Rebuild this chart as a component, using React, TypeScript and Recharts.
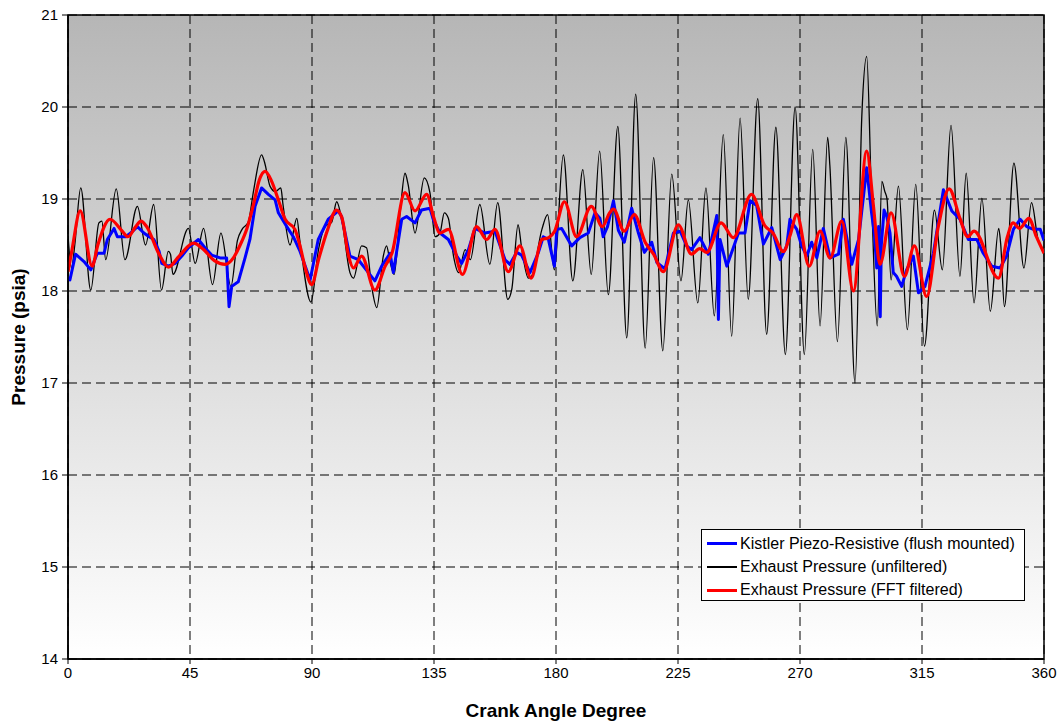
import React from 'react';
import {
  LineChart,
  Line,
  XAxis,
  YAxis,
  CartesianGrid,
  Legend,
  ReferenceArea,
} from 'recharts';

const FONT = '"Liberation Sans", Arial, Helvetica, sans-serif';

// Axis ticks
const angleTicks = [0, 45, 90, 135, 180, 225, 270, 315, 360];
const pressureTicks = [14, 15, 16, 17, 18, 19, 20, 21];

const seriesNames = [
  'Kistler Piezo-Resistive (flush mounted)',
  'Exhaust Pressure (unfiltered)',
  'Exhaust Pressure (FFT filtered)',
];

// Exhaust pressure, unfiltered (crank angle in degrees, pressure in psia)
const rawAngle = [
  0, 1.3, 2.5, 4.7, 8.4, 11.4, 12.5, 13.9, 17.8, 21.0,
  25.6, 28.6, 31.6, 34.5, 37.0, 37.8, 38.7, 44.4, 46.9, 50.0,
  53.3, 56.4, 60.1, 62.5, 64.2, 66.5, 68.5, 71.4, 72.5, 74.5,
  76.5, 78.5, 79.3, 81.9, 84.4, 85.5, 89.6, 92.4, 94.8, 97.3,
  99.1, 100.9, 104.0, 105.3, 108.3, 110.1, 112.0, 113.9, 116.3, 117.5,
  118.7, 120.3, 122.5, 124.3, 125.5, 128.0, 131.4, 133.5, 135.4, 137.2,
  138.8, 140.3, 142.2, 144.1, 146.5, 148.4, 151.9, 155.6, 158.5, 162.2,
  163.7, 166.0, 167.4, 169.8, 171.0, 174.8, 176.9, 179.4, 182.7, 186.2,
  189.9, 193.0, 196.1, 199.3, 202.8, 206.1, 209.4, 212.9, 216.0, 219.4,
  222.7, 226.1, 228.8, 232.3, 235.3, 238.4, 241.7, 244.8, 247.9, 250.9,
  254.4, 257.7, 261.1, 264.6, 268.2, 271.6, 274.7, 277.4, 280.2, 281.0,
  283.8, 286.9, 290.3, 292.8, 294.6, 296.4, 298.5, 300.2, 301.3, 302.1,
  303.6, 306.3, 309.6, 312.7, 315.9, 319.6, 322.5, 325.7, 329.0, 331.3,
  334.2, 337.1, 340.2, 343.3, 344.0, 345.4, 348.9, 352.6, 355.4, 357.8, 360,
];
const rawPsia = [
  18.60, 18.25, 18.50, 19.12, 18.01, 18.74, 18.76, 18.34, 19.11, 18.34,
  18.92, 18.50, 18.94, 18.01, 18.43, 18.40, 18.18, 18.68, 18.30, 18.68,
  18.07, 18.63, 18.05, 18.55, 18.67, 18.75, 19.10, 19.48, 19.40, 19.14,
  19.08, 19.12, 18.94, 18.50, 18.79, 18.55, 17.88, 18.45, 18.70, 18.75,
  18.97, 18.79, 18.20, 18.14, 18.49, 18.47, 18.05, 17.82, 18.38, 18.49,
  18.33, 18.18, 18.85, 19.28, 19.15, 18.63, 19.23, 19.07, 18.59, 18.63,
  18.85, 18.79, 18.38, 18.20, 18.45, 18.34, 18.94, 18.29, 18.96, 17.91,
  18.02, 18.72, 18.45, 18.14, 18.16, 18.67, 18.83, 18.23, 19.48, 18.11,
  19.32, 18.18, 19.52, 17.96, 19.79, 17.49, 20.14, 17.38, 19.45, 17.35,
  19.27, 18.11, 18.99, 17.87, 19.12, 17.73, 19.70, 17.51, 19.88, 17.91,
  20.09, 17.53, 19.78, 17.31, 20.00, 17.31, 19.54, 17.62, 19.67, 19.37,
  17.45, 19.67, 17.00, 19.90, 20.55, 19.00, 17.62, 19.19, 19.08, 19.00,
  18.12, 19.14, 17.58, 19.16, 17.40, 18.88, 18.23, 19.80, 18.16, 19.28,
  17.87, 19.01, 17.78, 18.68, 18.52, 17.83, 19.39, 18.25, 18.96, 18.56, 18.45,
];

// Exhaust pressure after FFT filtering
const fftAngle = [
  0, 1.5, 4.5, 8.9, 11.0, 15.5, 20.0, 22.1, 25.0, 26.9,
  29.0, 33.6, 37.0, 41.0, 46.3, 50.0, 54.0, 58.0, 61.0, 63.5,
  66.0, 68.5, 70.5, 72.7, 75.0, 77.6, 80.1, 83.7, 85.5, 87.5,
  89.9, 92.5, 95.8, 99.0, 101.0, 103.5, 105.3, 108.3, 113.2, 117.0,
  119.5, 124.3, 128.0, 132.3, 134.8, 137.2, 140.3, 145.5, 150.7, 154.4,
  157.5, 162.4, 166.7, 170.8, 174.8, 177.3, 179.5, 183.1, 187.6, 193.0,
  197.1, 199.8, 201.2, 205.2, 208.9, 212.9, 216.0, 219.6, 225.1, 230.0,
  233.0, 235.6, 240.9, 245.4, 252.1, 257.0, 260.0, 263.9, 266.3, 268.8,
  273.4, 277.4, 281.1, 285.4, 289.7, 294.6, 297.1, 299.5, 303.6, 308.5,
  312.2, 316.7, 321.0, 325.0, 329.0, 331.8, 334.2, 343.2, 346.5, 348.6,
  351.0, 354.4, 357.2, 360,
];
const fftPsia = [
  18.21, 18.45, 18.87, 18.27, 18.50, 18.78, 18.65, 18.59, 18.70, 18.76,
  18.70, 18.40, 18.26, 18.38, 18.52, 18.45, 18.33, 18.29, 18.36, 18.50,
  18.68, 18.95, 19.20, 19.30, 19.20, 18.99, 18.78, 18.67, 18.50, 18.25,
  18.07, 18.35, 18.67, 18.88, 18.80, 18.38, 18.25, 18.38, 18.01, 18.27,
  18.41, 19.07, 18.87, 19.05, 18.81, 18.63, 18.67, 18.18, 18.70, 18.56,
  18.67, 18.21, 18.49, 18.14, 18.56, 18.58, 18.65, 18.97, 18.59, 18.92,
  18.70, 18.85, 18.89, 18.65, 18.83, 18.53, 18.40, 18.21, 18.72, 18.40,
  18.46, 18.42, 18.74, 18.58, 19.05, 18.71, 18.63, 18.43, 18.60, 18.83,
  18.27, 18.65, 18.36, 18.76, 18.00, 19.52, 18.92, 18.29, 18.85, 18.16,
  18.49, 17.94, 18.70, 19.11, 18.79, 18.59, 18.65, 18.14, 18.59, 18.74,
  18.68, 18.79, 18.59, 18.41,
];

// Kistler piezo-resistive transducer, flush mounted
const kistlerAngle = [
  0, 0.7, 2.8, 5.9, 8.4, 10.8, 13.3, 14.5, 17.0, 18.2,
  21.3, 23.1, 25.6, 28.0, 29.9, 31.7, 33.6, 34.6, 37.0, 39.5,
  42.0, 44.4, 48.1, 50.5, 53.0, 56.1, 58.5, 59.4, 60.4, 62.8,
  65.3, 67.1, 69.0, 71.4, 73.9, 76.4, 77.6, 80.7, 83.1, 85.6,
  89.3, 92.3, 96.0, 99.7, 100.9, 104.0, 107.1, 110.8, 113.2, 115.7,
  118.8, 120.0, 123.1, 124.9, 128.0, 130.4, 133.5, 134.8, 137.2, 140.3,
  143.4, 145.2, 147.7, 150.1, 153.8, 157.5, 161.2, 163.0, 165.5, 167.3,
  170.4, 173.4, 175.3, 177.2, 179.4, 180.3, 182.1, 185.8, 188.8, 191.9,
  194.4, 196.2, 197.4, 199.0, 201.2, 203.0, 205.2, 207.9, 210.4, 212.6,
  215.3, 217.2, 220.2, 223.3, 225.8, 228.2, 230.0, 233.1, 236.2, 239.3,
  239.9, 240.5, 243.0, 245.4, 247.3, 249.7, 251.6, 254.0, 256.5, 259.6,
  262.7, 265.1, 266.3, 268.8, 270.6, 272.5, 274.3, 276.2, 278.6, 281.1,
  284.2, 286.0, 289.1, 291.6, 294.6, 296.4, 297.5, 298.3, 299.0, 299.6,
  300.0, 301.0, 302.0, 303.2, 304.4, 305.6, 307.5, 309.3, 311.8, 313.7,
  316.1, 319.2, 322.9, 326.0, 329.0, 332.1, 335.2, 337.6, 340.7, 343.8,
  346.2, 348.7, 351.2, 353.6, 356.1, 358.6, 360,
];
const kistlerPsia = [
  18.15, 18.12, 18.40, 18.32, 18.23, 18.41, 18.41, 18.56, 18.68, 18.59,
  18.59, 18.63, 18.70, 18.63, 18.59, 18.56, 18.43, 18.30, 18.27, 18.30,
  18.38, 18.47, 18.56, 18.47, 18.39, 18.36, 18.36, 17.83, 18.05, 18.10,
  18.36, 18.56, 18.92, 19.12, 19.05, 18.99, 18.85, 18.70, 18.59, 18.43,
  18.12, 18.56, 18.78, 18.87, 18.81, 18.38, 18.34, 18.20, 18.11, 18.27,
  18.41, 18.20, 18.78, 18.81, 18.74, 18.88, 18.90, 18.77, 18.63, 18.56,
  18.38, 18.30, 18.45, 18.68, 18.63, 18.65, 18.34, 18.29, 18.42, 18.39,
  18.20, 18.41, 18.59, 18.56, 18.27, 18.67, 18.68, 18.49, 18.58, 18.63,
  18.85, 18.79, 18.59, 18.70, 18.98, 18.66, 18.53, 18.90, 18.63, 18.42,
  18.53, 18.31, 18.24, 18.63, 18.65, 18.49, 18.45, 18.58, 18.40, 18.82,
  17.69, 18.56, 18.27, 18.47, 18.63, 18.63, 18.98, 18.93, 18.51, 18.69,
  18.34, 18.49, 18.78, 18.67, 18.49, 18.38, 18.53, 18.36, 18.68, 18.36,
  18.40, 18.78, 18.29, 18.56, 19.34, 18.85, 18.60, 18.25, 18.70, 17.72,
  18.50, 18.88, 18.81, 18.63, 18.20, 18.16, 18.05, 18.23, 18.38, 17.98,
  18.05, 18.41, 19.10, 18.87, 18.78, 18.56, 18.56, 18.41, 18.27, 18.25,
  18.38, 18.67, 18.78, 18.70, 18.67, 18.67, 18.55,
];

const toPoints = (angles: number[], values: number[]) =>
  angles.map((angle, i) => ({ angle, psia: values[i] }));

const kistlerData = toPoints(kistlerAngle, kistlerPsia);
const rawData = toPoints(rawAngle, rawPsia);
const fftData = toPoints(fftAngle, fftPsia);

const legendRows = [
  { name: seriesNames[0], color: '#0000ff', width: 3 },
  { name: seriesNames[1], color: '#000000', width: 1.3 },
  { name: seriesNames[2], color: '#ff0000', width: 3 },
];

function LegendBox() {
  return (
    <div
      style={{
        boxSizing: 'border-box',
        width: 324,
        height: 72,
        border: '1px solid #000',
        background: '#fff',
        paddingTop: 2,
        fontFamily: FONT,
        fontSize: 16,
        color: '#000',
      }}
    >
      {legendRows.map((row) => (
        <div
          key={row.name}
          style={{ display: 'flex', alignItems: 'center', height: 23.3, whiteSpace: 'nowrap' }}
        >
          <span
            style={{
              display: 'inline-block',
              marginLeft: 5,
              marginRight: 3,
              width: 30,
              height: row.width,
              background: row.color,
            }}
          />
          <span>{row.name}</span>
        </div>
      ))}
    </div>
  );
}

const tickStyle = { fill: '#000', fontSize: 15, fontFamily: FONT };
const titleStyle = { fill: '#000', fontSize: 19, fontWeight: 'bold', fontFamily: FONT };

export default function App() {
  return (
    <div
      style={{
        position: 'absolute',
        left: 0,
        top: 0,
        width: 1060,
        height: 725,
        background: '#fff',
        fontFamily: FONT,
      }}
    >
      <LineChart width={1060} height={725} margin={{ top: 15, right: 16, bottom: 0, left: 0 }}>
        <defs>
          <linearGradient id="plotShade" x1="0" y1="0" x2="0" y2="1">
            <stop offset="0" stopColor="#b6b6b6" />
            <stop offset="1" stopColor="#ffffff" />
          </linearGradient>
        </defs>
        <CartesianGrid fill="url(#plotShade)" stroke="#000" strokeDasharray="9 5" />
        <XAxis
          dataKey="angle"
          type="number"
          domain={[0, 360]}
          ticks={angleTicks}
          interval={0}
          height={66}
          tickSize={5}
          tickMargin={3}
          tick={tickStyle}
          axisLine={{ stroke: '#000', strokeWidth: 1.5 }}
          tickLine={{ stroke: '#000' }}
          allowDataOverflow
          label={{ value: 'Crank Angle Degree', position: 'insideBottom', offset: 8, style: titleStyle }}
        />
        <YAxis
          type="number"
          domain={[14, 21]}
          ticks={pressureTicks}
          interval={0}
          width={68}
          tickSize={6}
          tickMargin={4}
          tick={tickStyle}
          axisLine={{ stroke: '#000', strokeWidth: 1.5 }}
          tickLine={{ stroke: '#000' }}
          allowDataOverflow
          label={{
            value: 'Pressure (psia)',
            angle: -90,
            position: 'insideLeft',
            offset: 18,
            style: { ...titleStyle, textAnchor: 'middle' },
          }}
        />
        <ReferenceArea
          x1={0}
          x2={360}
          y1={14}
          y2={21}
          fill="none"
          fillOpacity={0}
          stroke="#000"
          strokeWidth={1.5}
          ifOverflow="visible"
        />
        <Line
          data={rawData}
          dataKey="psia"
          name={seriesNames[1]}
          type="monotone"
          stroke="#000"
          strokeWidth={1.3}
          dot={false}
          activeDot={false}
          isAnimationActive={false}
        />
        <Line
          data={kistlerData}
          dataKey="psia"
          name={seriesNames[0]}
          type="linear"
          stroke="#0000ff"
          strokeWidth={3}
          strokeLinejoin="round"
          dot={false}
          activeDot={false}
          isAnimationActive={false}
        />
        <Line
          data={fftData}
          dataKey="psia"
          name={seriesNames[2]}
          type="monotone"
          stroke="#ff0000"
          strokeWidth={3.2}
          dot={false}
          activeDot={false}
          isAnimationActive={false}
        />
        <Legend
          layout="vertical"
          align="center"
          verticalAlign="middle"
          content={<LegendBox />}
          wrapperStyle={{ left: 701, top: 529, width: 324, height: 72, right: 'auto', bottom: 'auto' }}
        />
      </LineChart>
    </div>
  );
}
